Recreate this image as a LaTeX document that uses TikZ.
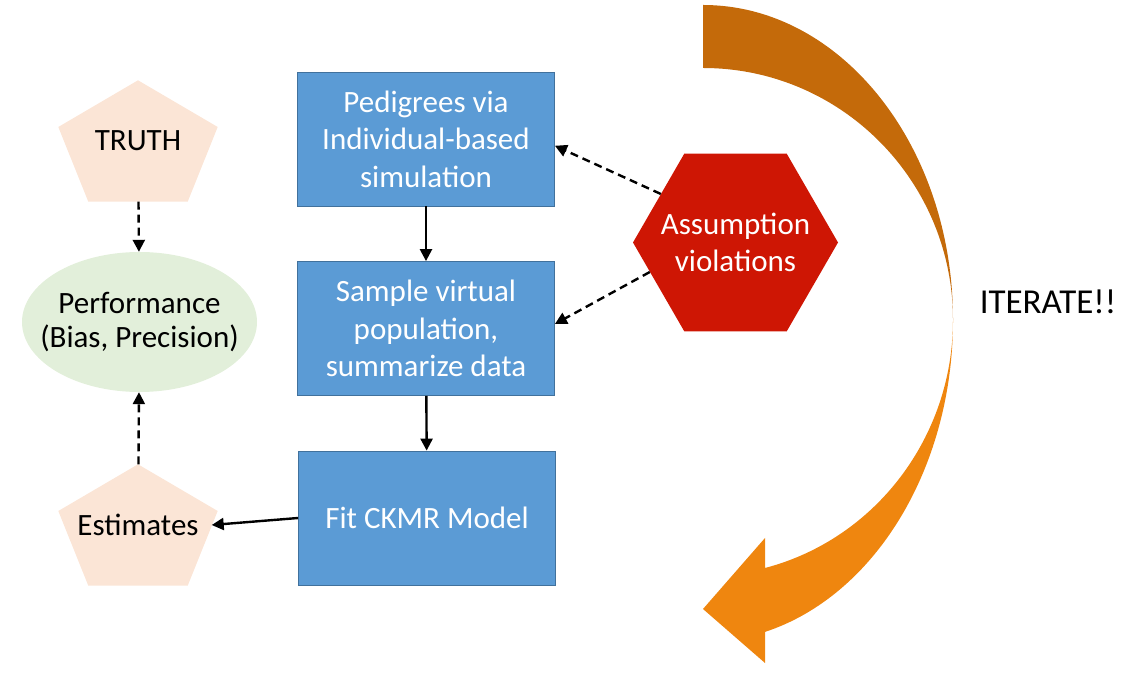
\documentclass[tikz,border=0pt]{standalone}
\usepackage{fontspec}
\setmainfont{Carlito}
\usetikzlibrary{arrows.meta,shapes.geometric,backgrounds}
\definecolor{boxblue}{RGB}{91,155,213}
\definecolor{boxline}{RGB}{65,113,156}
\definecolor{peach}{RGB}{251,229,214}
\definecolor{palegreen}{RGB}{226,239,218}
\definecolor{hexred}{RGB}{206,22,4}
\definecolor{darkorange}{RGB}{196,106,10}
\definecolor{lightorange}{RGB}{239,134,15}

\begin{document}
\begin{tikzpicture}[x=1pt,y=1pt,
		bigfont/.style={font=\fontsize{31}{37.5}\selectfont,align=center},
		stepbox/.style={bigfont,draw=boxline,line width=0.8pt,fill=boxblue,text=white,minimum width=257pt,minimum height=134pt},
		penta/.style={bigfont,minimum width=159pt,minimum height=121pt,inner sep=0pt},
		solidarrow/.style={line width=2.4pt,-{Triangle[length=12pt,width=12pt]}},
		dasharrow/.style={solidarrow,dash pattern=on 8pt off 5pt}]
		\useasboundingbox (0,0) rectangle (1143,672);
		% main chain
		\node[stepbox] (pedigree) at (426,533) {Pedigrees via\\Individual-based\\simulation};
		\node[stepbox] (sample) at (426,343.5) {Sample virtual\\population,\\summarize data};
		\node[stepbox] (fit) at (427,154) {Fit CKMR Model};
		% left side
		\node[penta] (truth) at (138,531) {TRUTH};
		\node[penta] (est) at (138,147) {Estimates};
		\node[ellipse,fill=palegreen,minimum width=235pt,minimum height=140pt,inner sep=0pt] (perf) at (139.5,350) {};
		\node[bigfont,font=\fontsize{31}{34}\selectfont] (perftext) at (perf) {Performance\\(Bias, Precision)};
		\begin{scope}[on background layer]
			\foreach \n in {truth,est}
				\fill[peach] (\n.north) -- ([yshift=14]\n.east) -- ([xshift=-30]\n.south east)
					-- ([xshift=30]\n.south west) -- ([yshift=14]\n.west) -- cycle;
		\end{scope}
		% violations
		\node[regular polygon,regular polygon sides=6,minimum size=205pt,inner sep=0pt,fill=hexred] (viol) at (735.5,429.5) {};
		\node[bigfont,text=white] (violtext) at (viol) {Assumption\\violations};
		% big curved arrow
		\fill[darkorange] (703,667) arc[start angle=90,end angle=0,x radius=250,y radius=315]
			arc[start angle=0,end angle=90,x radius=250,y radius=252] -- cycle;
		\fill[lightorange] (953,352) arc[start angle=0,end angle=-75.64,x radius=250,y radius=322]
			-- (765,9) -- (703,63) -- (765,134) -- (765,104)
			arc[start angle=-75.64,end angle=0,x radius=250,y radius=256] -- cycle;
		\node[font=\fontsize{35}{40}\selectfont] (iterate) at (1048,370) {ITERATE!!};
		% connectors
		\draw[solidarrow] (pedigree) -- (sample);
		\draw[solidarrow] (sample) -- (fit);
		\draw[solidarrow] (fit.west) -- ([xshift=-6]est.east);
		\draw[dasharrow] (viol.147) -- (pedigree.-3);
		\draw[dasharrow] (viol.199) -- (sample.2);
		\draw[dasharrow] (truth) -- (perf);
		\draw[dasharrow] (est) -- (perf);
	\end{tikzpicture}
\end{document}
